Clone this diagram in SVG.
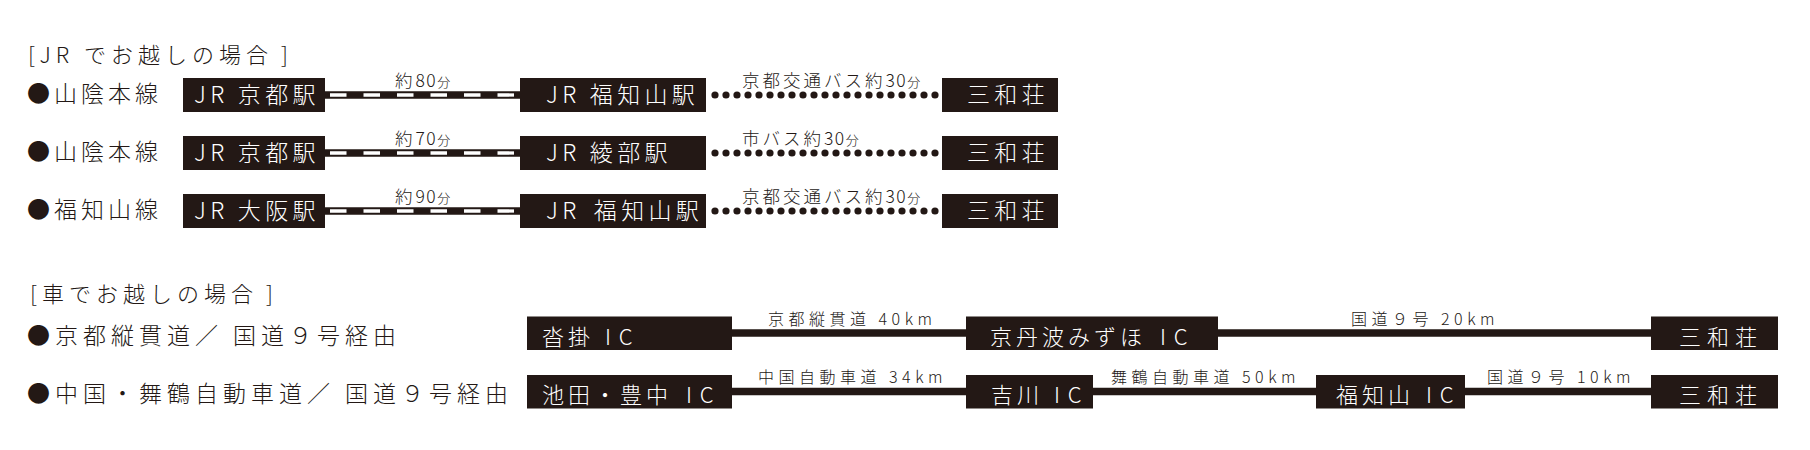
<svg xmlns="http://www.w3.org/2000/svg" width="1810" height="450" viewBox="0 0 1810 450">
<style>
  text { font-family: "Noto Sans CJK JP", "Noto Sans", sans-serif; font-weight: 300; fill: #231815; }
  .title { font-size: 22px; letter-spacing: 5px; }
  .lbl { font-size: 23px; letter-spacing: 4px; }
  .clbl { font-size: 23px; letter-spacing: 5px; }
  .box { fill: #231815; }
  .bt { fill: #ffffff; font-size: 23px; letter-spacing: 4.3px; }
  .ct { fill: #ffffff; font-size: 22px; letter-spacing: 4px; }
  .ic { letter-spacing: 8px; }
  .st { letter-spacing: 6px; }
  .rail { stroke: #231815; stroke-width: 7.5; fill: none; }
  .raild { stroke: #ffffff; stroke-width: 3.3; stroke-dasharray: 16.5 17; fill: none; }
  .dots { stroke: #231815; stroke-width: 7.2; stroke-linecap: round; stroke-dasharray: 0 11; fill: none; }
  .road { stroke: #231815; stroke-width: 7.5; fill: none; }
  .ml { font-size: 17.5px; letter-spacing: 3px; }
  .num { letter-spacing: 1.5px; }
  .fun { font-size: 13px; letter-spacing: 0; }
  .kl { font-size: 16px; letter-spacing: 4.5px; }
</style>

<g id="titles">
  <text class="title" x="28" y="63">[JR でお越しの場合<tspan dx="8">]</tspan></text>
  <text class="title" x="30" y="302">[車でお越しの場合<tspan dx="8">]</tspan></text>
</g>

<g id="row-labels">
  <text class="lbl" x="27" y="102">●山陰本線</text>
  <text class="lbl" x="27" y="160">●山陰本線</text>
  <text class="lbl" x="27" y="218">●福知山線</text>
  <text class="clbl" x="27" y="344">●京都縦貫道／ 国道９号経由</text>
  <text class="clbl" x="27" y="402">●中国・舞鶴自動車道／ 国道９号経由</text>
</g>

<g id="connectors">
  <!-- JR rail lines -->
  <line class="rail" x1="325" y1="95" x2="520" y2="95"/>
  <line class="raild" x1="330" y1="95" x2="520" y2="95"/>
  <line class="rail" x1="325" y1="153" x2="520" y2="153"/>
  <line class="raild" x1="330" y1="153" x2="520" y2="153"/>
  <line class="rail" x1="325" y1="211" x2="520" y2="211"/>
  <line class="raild" x1="330" y1="211" x2="520" y2="211"/>
  <!-- bus dotted lines -->
  <line class="dots" x1="715" y1="95" x2="935.5" y2="95"/>
  <line class="dots" x1="715" y1="153" x2="935.5" y2="153"/>
  <line class="dots" x1="715" y1="211" x2="935.5" y2="211"/>
  <!-- JR labels -->
  <text class="ml" x="395" y="87">約<tspan class="num">80</tspan><tspan class="fun">分</tspan></text>
  <text class="ml" x="395" y="145">約<tspan class="num">70</tspan><tspan class="fun">分</tspan></text>
  <text class="ml" x="395" y="203">約<tspan class="num">90</tspan><tspan class="fun">分</tspan></text>
  <text class="ml" x="742" y="87">京都交通バス約<tspan class="num">30</tspan><tspan class="fun">分</tspan></text>
  <text class="ml" x="742" y="145">市バス約<tspan class="num">30</tspan><tspan class="fun">分</tspan></text>
  <text class="ml" x="742" y="203">京都交通バス約<tspan class="num">30</tspan><tspan class="fun">分</tspan></text>
  <!-- car roads -->
  <line class="road" x1="732" y1="333" x2="966" y2="333"/>
  <line class="road" x1="1218" y1="333" x2="1651" y2="333"/>
  <line class="road" x1="732" y1="391.5" x2="966" y2="391.5"/>
  <line class="road" x1="1093" y1="391.5" x2="1316" y2="391.5"/>
  <line class="road" x1="1465" y1="391.5" x2="1651" y2="391.5"/>
  <text class="kl" x="768" y="325">京都縦貫道 40km</text>
  <text class="kl" x="1351" y="325">国道９号 20km</text>
  <text class="kl" x="758" y="383">中国自動車道 34km</text>
  <text class="kl" x="1111" y="383">舞鶴自動車道 50km</text>
  <text class="kl" x="1487" y="383">国道９号 10km</text>
</g>

<!-- JR row 1 -->
<g id="jr1-kyoto"><rect class="box" x="183" y="78" width="142" height="34"/><text class="bt" x="194" y="103">JR 京都駅</text></g>
<g id="jr1-fukuchiyama"><rect class="box" x="520" y="78" width="186" height="34"/><text class="bt" x="546" y="103">JR 福知山駅</text></g>
<g id="jr1-sanwaso"><rect class="box" x="942" y="78" width="116" height="34"/><text class="bt" x="967" y="103">三和荘</text></g>
<!-- JR row 2 -->
<g id="jr2-kyoto"><rect class="box" x="183" y="136" width="142" height="34"/><text class="bt" x="194" y="161">JR 京都駅</text></g>
<g id="jr2-ayabe"><rect class="box" x="520" y="136" width="186" height="34"/><text class="bt" x="546" y="161">JR 綾部駅</text></g>
<g id="jr2-sanwaso"><rect class="box" x="942" y="136" width="116" height="34"/><text class="bt" x="967" y="161">三和荘</text></g>
<!-- JR row 3 -->
<g id="jr3-osaka"><rect class="box" x="183" y="194" width="142" height="34"/><text class="bt" x="194" y="219">JR 大阪駅</text></g>
<g id="jr3-fukuchiyama"><rect class="box" x="520" y="194" width="186" height="34"/><text class="bt" x="546" y="219">JR <tspan dx="4">福知山駅</tspan></text></g>
<g id="jr3-sanwaso"><rect class="box" x="942" y="194" width="116" height="34"/><text class="bt" x="967" y="219">三和荘</text></g>

<!-- Car row A -->
<g id="car1-kutsukake"><rect class="box" x="527" y="316.5" width="205" height="33.5"/><text class="ct" x="542" y="344.5">沓掛 <tspan class="ic" dx="2">IC</tspan></text></g>
<g id="car1-kyotamba"><rect class="box" x="966" y="316.5" width="252" height="33.5"/><text class="ct" x="990" y="344.5">京丹波みずほ <tspan class="ic" dx="5">IC</tspan></text></g>
<g id="car1-sanwaso"><rect class="box" x="1651" y="316.5" width="127" height="33.5"/><text class="ct st" x="1679" y="344.5">三和荘</text></g>
<!-- Car row B -->
<g id="car2-ikeda"><rect class="box" x="527" y="375" width="205" height="33.5"/><text class="ct" x="542" y="403">池田・豊中 <tspan class="ic" dx="5">IC</tspan></text></g>
<g id="car2-yokawa"><rect class="box" x="966" y="375" width="127" height="33.5"/><text class="ct" x="991" y="403">吉川 <tspan class="ic" dx="2">IC</tspan></text></g>
<g id="car2-fukuchiyama"><rect class="box" x="1316" y="375" width="149" height="33.5"/><text class="ct" x="1336" y="403">福知山 <tspan class="ic" dx="3">IC</tspan></text></g>
<g id="car2-sanwaso"><rect class="box" x="1651" y="375" width="127" height="33.5"/><text class="ct st" x="1679" y="403">三和荘</text></g>
</svg>
